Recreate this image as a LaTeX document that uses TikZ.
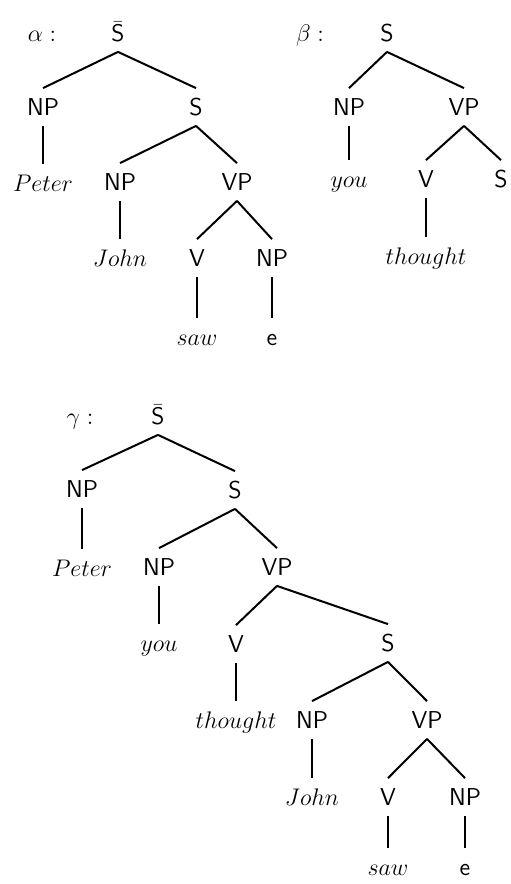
\documentclass[tikz,border=0pt]{standalone}
\usepackage{amsmath}
\usepackage{tikz}

\begin{document}
\begin{tikzpicture}[x=0.5pt, y=-0.5pt]
	\useasboundingbox (0,0) rectangle (510,884);
	\begin{scope}[every node/.style={font=\fontsize{12.2}{14}\selectfont\sffamily,
	              text height=8.5pt, text depth=0pt, inner xsep=0pt, inner ysep=5pt}]
		\node (la) at (42,33) {$\alpha :$};
		\node (a1) at (118,33) {$\bar{\mathsf{S}}$};
		\node (a2) at (43,107) {NP};
		\node (a3) at (196,107) {S};
		\node (a4) at (43,183) {$Peter$};
		\node (a5) at (120,182) {NP};
		\node (a6) at (237,182) {VP};
		\node (a7) at (120,258) {$John$};
		\node (a8) at (197,258) {V};
		\node (a9) at (272,258) {NP};
		\node (a10) at (197,337) {$saw$};
		\node (a11) at (272,337) {e};

		\node (lb) at (310,33) {$\beta :$};
		\node (b1) at (387,33) {S};
		\node (b2) at (349,107) {NP};
		\node (b3) at (464,107) {VP};
		\node (b4) at (349,179) {$you$};
		\node (b5) at (426,179) {V};
		\node (b6) at (501,179) {S};
		\node (b7) at (426,256) {$thought$};

		\node (lg) at (80,416) {$\gamma :$};
		\node (g1) at (158,416) {$\bar{\mathsf{S}}$};
		\node (g2) at (82,489) {NP};
		\node (g3) at (235,490) {S};
		\node (g4) at (82,568) {$Peter$};
		\node (g5) at (159,567) {NP};
		\node (g6) at (277,567) {VP};
		\node (g7) at (159,643) {$you$};
		\node (g8) at (236,644) {V};
		\node (g9) at (388,643) {S};
		\node (g10) at (236,720) {$thought$};
		\node (g11) at (312,720) {NP};
		\node (g12) at (427,720) {VP};
		\node (g13) at (312,797) {$John$};
		\node (g14) at (388,797) {V};
		\node (g15) at (465,797) {NP};
		\node (g16) at (388,867) {$saw$};
		\node (g17) at (465,867) {e};
	\end{scope}

	\begin{scope}[every edge/.style={draw=black, line width=1pt}]
		\foreach \p/\c in {a1/a2, a1/a3, a2/a4, a3/a5, a3/a6, a5/a7, a6/a8, a6/a9, a8/a10, a9/a11,
		                   b1/b2, b1/b3, b2/b4, b3/b5, b3/b6, b5/b7,
		                   g1/g2, g1/g3, g2/g4, g3/g5, g3/g6, g5/g7, g6/g8, g6/g9, g8/g10,
		                   g9/g11, g9/g12, g11/g13, g12/g14, g12/g15, g14/g16, g15/g17}
		{\path (\p.south) edge (\c.north);}
	\end{scope}
\end{tikzpicture}
\end{document}
